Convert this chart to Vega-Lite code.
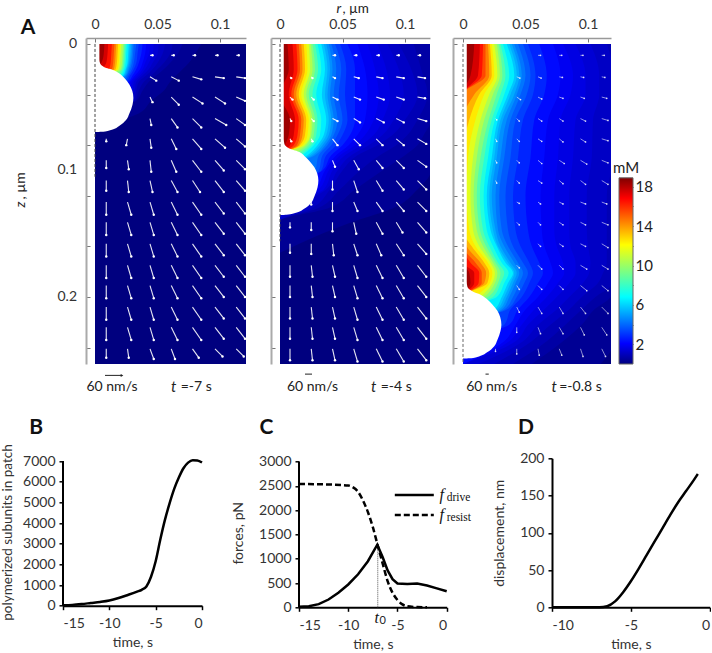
{"$schema":"https://vega.github.io/schema/vega-lite/v6.json","padding":{"left":0,"top":1,"right":0,"bottom":0},"bounds":"flush","spacing":420.3,"config":{"view":{"stroke":null},"font":"Lato","axis":{"grid":false,"labelFont":"Lato","titleFont":"Lato","labelFontSize":14,"titleFontSize":14,"labelColor":"#333","titleColor":"#333","titleFontWeight":"normal","labelOverlap":false},"text":{"font":"Lato","fontSize":14,"color":"#222"}},
"datasets":{
"c1":[
{"z":0,"c2":85,"c5":70,"c7":62,"c10":56,"c12":51,"c15":47,"c17":44,"c20":41,"c25":38,"c30":35,"c35":33,"c40":31,"c45":30,"c50":29,"c55":28,"c60":27,"c70":25.5,"c80":24.5,"c90":23.5,"c100":22.5,"c110":21,"c120":20,"c130":18.5,"c140":17,"c150":15.5,"c160":13.5,"c170":10.5,"c180":7.5},
{"z":8,"c2":80,"c5":66,"c7":60,"c10":54,"c12":50,"c15":46,"c17":43,"c20":40,"c25":37,"c30":34,"c35":32,"c40":30.5,"c45":29.5,"c50":28.5,"c55":27.5,"c60":26.5,"c70":25,"c80":24,"c90":23,"c100":22,"c110":20.5,"c120":19.5,"c130":18,"c140":16.5,"c150":15,"c160":13,"c170":10,"c180":7},
{"z":15,"c2":75,"c5":60,"c7":55,"c10":50,"c12":46,"c15":43,"c17":40,"c20":38,"c25":35,"c30":33,"c35":31,"c40":29.5,"c45":28.5,"c50":27.5,"c55":26.7,"c60":26,"c70":24.5,"c80":23.5,"c90":22.5,"c100":21.5,"c110":20,"c120":19,"c130":17.5,"c140":16,"c150":14.5,"c160":12.5,"c170":9,"c180":5},
{"z":20,"c2":70,"c5":55,"c7":50,"c10":46,"c12":43,"c15":40,"c17":38,"c20":36,"c25":33,"c30":31,"c35":29.5,"c40":28,"c45":27,"c50":26,"c55":25.2,"c60":24.5,"c70":23.5,"c80":22.5,"c90":21.5,"c100":20.5,"c110":19,"c120":18,"c130":16.5,"c140":15,"c150":13.5,"c160":11,"c170":5,"c180":0},
{"z":25,"c2":65,"c5":49,"c7":45,"c10":41,"c12":38,"c15":36,"c17":34,"c20":32,"c25":30,"c30":28,"c35":26.7,"c40":25.5,"c45":24.7,"c50":24,"c55":23.2,"c60":22.5,"c70":21,"c80":19,"c90":15,"c100":10,"c110":5,"c120":0,"c130":0,"c140":0,"c150":0,"c160":0,"c170":0,"c180":0},
{"z":30,"c2":60,"c5":43,"c7":39,"c10":35,"c12":33,"c15":31,"c17":29.5,"c20":28,"c25":26.5,"c30":25,"c35":23.5,"c40":22,"c45":18,"c50":15,"c55":10,"c60":5,"c70":0,"c80":0,"c90":0,"c100":0,"c110":0,"c120":0,"c130":0,"c140":0,"c150":0,"c160":0,"c170":0,"c180":0},
{"z":37,"c2":55,"c5":38,"c7":35,"c10":33,"c12":31.5,"c15":30,"c17":28,"c20":25,"c25":10,"c30":0,"c35":0,"c40":0,"c45":0,"c50":0,"c55":0,"c60":0,"c70":0,"c80":0,"c90":0,"c100":0,"c110":0,"c120":0,"c130":0,"c140":0,"c150":0,"c160":0,"c170":0,"c180":0},
{"z":45,"c2":45,"c5":33,"c7":32,"c10":31,"c12":25,"c15":20,"c17":10,"c20":0,"c25":0,"c30":0,"c35":0,"c40":0,"c45":0,"c50":0,"c55":0,"c60":0,"c70":0,"c80":0,"c90":0,"c100":0,"c110":0,"c120":0,"c130":0,"c140":0,"c150":0,"c160":0,"c170":0,"c180":0},
{"z":55,"c2":35,"c5":0,"c7":0,"c10":0,"c12":0,"c15":0,"c17":0,"c20":0,"c25":0,"c30":0,"c35":0,"c40":0,"c45":0,"c50":0,"c55":0,"c60":0,"c70":0,"c80":0,"c90":0,"c100":0,"c110":0,"c120":0,"c130":0,"c140":0,"c150":0,"c160":0,"c170":0,"c180":0},
{"z":65,"c2":0,"c5":0,"c7":0,"c10":0,"c12":0,"c15":0,"c17":0,"c20":0,"c25":0,"c30":0,"c35":0,"c40":0,"c45":0,"c50":0,"c55":0,"c60":0,"c70":0,"c80":0,"c90":0,"c100":0,"c110":0,"c120":0,"c130":0,"c140":0,"c150":0,"c160":0,"c170":0,"c180":0}],
"c2":[
{"z":0,"c2":120.8,"c5":120.8,"c7":107,"c10":95,"c12":86,"c15":78,"c17":70,"c20":62,"c25":54,"c30":48,"c35":44,"c40":41,"c45":39,"c50":37,"c55":35,"c60":33,"c70":30,"c80":28,"c90":26,"c100":24.5,"c110":23,"c120":21,"c130":19,"c140":17,"c150":15,"c160":13,"c170":10,"c180":6},
{"z":20,"c2":120.8,"c5":120.8,"c7":113,"c10":105,"c12":95,"c15":85,"c17":76,"c20":68,"c25":60,"c30":53,"c35":49,"c40":45,"c45":42,"c50":40,"c55":38,"c60":36,"c70":33,"c80":30.5,"c90":28,"c100":26,"c110":24,"c120":22,"c130":20,"c140":18,"c150":16,"c160":14,"c170":11,"c180":7},
{"z":40,"c2":120.8,"c5":120.8,"c7":118,"c10":110,"c12":99,"c15":88,"c17":79,"c20":70,"c25":60,"c30":52,"c35":47,"c40":43,"c45":40,"c50":38,"c55":36,"c60":33.5,"c70":29,"c80":26,"c90":23,"c100":21,"c110":19,"c120":17,"c130":15,"c140":13,"c150":11,"c160":9,"c170":7,"c180":0},
{"z":60,"c2":120.8,"c5":120.8,"c7":110,"c10":100,"c12":91,"c15":82,"c17":75,"c20":68,"c25":60,"c30":54,"c35":50,"c40":46,"c45":43,"c50":41,"c55":39,"c60":37,"c70":33,"c80":30,"c90":28,"c100":26,"c110":24.5,"c120":23,"c130":21,"c140":19,"c150":17,"c160":15,"c170":12,"c180":8},
{"z":72,"c2":120.8,"c5":115,"c7":102,"c10":90,"c12":82,"c15":75,"c17":68,"c20":62,"c25":56,"c30":50,"c35":46,"c40":43,"c45":41,"c50":39,"c55":37,"c60":35,"c70":32,"c80":29,"c90":27,"c100":25,"c110":24,"c120":22,"c130":20,"c140":18,"c150":16,"c160":14,"c170":11,"c180":7},
{"z":80,"c2":120.8,"c5":110,"c7":93,"c10":78,"c12":71,"c15":65,"c17":60,"c20":55,"c25":50,"c30":45,"c35":41,"c40":38,"c45":36,"c50":34,"c55":32,"c60":30,"c70":27,"c80":25,"c90":23,"c100":21,"c110":19.5,"c120":18,"c130":16,"c140":15,"c150":13.5,"c160":11,"c170":8,"c180":4},
{"z":88,"c2":120.8,"c5":100,"c7":80,"c10":62,"c12":57,"c15":52,"c17":48,"c20":45,"c25":41,"c30":37,"c35":34,"c40":31,"c45":28,"c50":26,"c55":24,"c60":22,"c70":18,"c80":16,"c90":13,"c100":10,"c110":0,"c120":0,"c130":0,"c140":0,"c150":0,"c160":0,"c170":0,"c180":0},
{"z":100,"c2":120.8,"c5":82,"c7":64,"c10":50,"c12":46,"c15":42,"c17":39,"c20":36,"c25":34,"c30":33,"c35":31,"c40":28,"c45":0,"c50":0,"c55":0,"c60":0,"c70":0,"c80":0,"c90":0,"c100":0,"c110":0,"c120":0,"c130":0,"c140":0,"c150":0,"c160":0,"c170":0,"c180":0},
{"z":115,"c2":110,"c5":60,"c7":48,"c10":40,"c12":37,"c15":35,"c17":31,"c20":28,"c25":0,"c30":0,"c35":0,"c40":0,"c45":0,"c50":0,"c55":0,"c60":0,"c70":0,"c80":0,"c90":0,"c100":0,"c110":0,"c120":0,"c130":0,"c140":0,"c150":0,"c160":0,"c170":0,"c180":0},
{"z":130,"c2":90,"c5":38,"c7":30,"c10":25,"c12":10,"c15":0,"c17":0,"c20":0,"c25":0,"c30":0,"c35":0,"c40":0,"c45":0,"c50":0,"c55":0,"c60":0,"c70":0,"c80":0,"c90":0,"c100":0,"c110":0,"c120":0,"c130":0,"c140":0,"c150":0,"c160":0,"c170":0,"c180":0},
{"z":140,"c2":60,"c5":0,"c7":0,"c10":0,"c12":0,"c15":0,"c17":0,"c20":0,"c25":0,"c30":0,"c35":0,"c40":0,"c45":0,"c50":0,"c55":0,"c60":0,"c70":0,"c80":0,"c90":0,"c100":0,"c110":0,"c120":0,"c130":0,"c140":0,"c150":0,"c160":0,"c170":0,"c180":0},
{"z":165,"c2":0,"c5":0,"c7":0,"c10":0,"c12":0,"c15":0,"c17":0,"c20":0,"c25":0,"c30":0,"c35":0,"c40":0,"c45":0,"c50":0,"c55":0,"c60":0,"c70":0,"c80":0,"c90":0,"c100":0,"c110":0,"c120":0,"c130":0,"c140":0,"c150":0,"c160":0,"c170":0,"c180":0}],
"c3":[
{"z":0,"c2":120.8,"c5":120.8,"c7":120.8,"c10":115,"c12":102,"c15":90,"c17":80,"c20":72,"c25":61,"c30":52,"c35":48,"c40":44,"c45":41,"c50":39,"c55":37,"c60":35,"c70":32,"c80":30,"c90":28.5,"c100":27,"c110":25,"c120":23,"c130":21.5,"c140":20,"c150":18,"c160":16,"c170":13.5,"c180":9},
{"z":25,"c2":120.8,"c5":120.8,"c7":120.8,"c10":120.8,"c12":109,"c15":98,"c17":88,"c20":78,"c25":67,"c30":58,"c35":54,"c40":50,"c45":47,"c50":45,"c55":43,"c60":41,"c70":37,"c80":34,"c90":31.5,"c100":29.5,"c110":27.5,"c120":25,"c130":23,"c140":21,"c150":18,"c160":15,"c170":12,"c180":6},
{"z":40,"c2":120.8,"c5":120.8,"c7":120.8,"c10":120.8,"c12":109,"c15":98,"c17":86,"c20":76,"c25":65,"c30":56,"c35":51,"c40":46,"c45":43,"c50":41,"c55":38,"c60":36,"c70":33,"c80":30,"c90":27,"c100":24,"c110":21,"c120":17,"c130":13,"c140":9,"c150":0,"c160":0,"c170":0,"c180":0},
{"z":60,"c2":120.8,"c5":120.8,"c7":120.8,"c10":120,"c12":104,"c15":90,"c17":78,"c20":68,"c25":57,"c30":48,"c35":42,"c40":38,"c45":35,"c50":32,"c55":30,"c60":28,"c70":25.5,"c80":23,"c90":20.5,"c100":17,"c110":14,"c120":10,"c130":5,"c140":0,"c150":0,"c160":0,"c170":0,"c180":0},
{"z":90,"c2":120.8,"c5":120.8,"c7":120.8,"c10":120,"c12":103,"c15":88,"c17":76,"c20":65,"c25":54,"c30":44,"c35":38,"c40":33,"c45":30,"c50":27,"c55":25,"c60":23,"c70":20,"c80":17,"c90":14,"c100":11,"c110":8,"c120":4,"c130":0,"c140":0,"c150":0,"c160":0,"c170":0,"c180":0},
{"z":120,"c2":120.8,"c5":120.8,"c7":120.8,"c10":115,"c12":99,"c15":85,"c17":73,"c20":62,"c25":50,"c30":40,"c35":34,"c40":29,"c45":26,"c50":23,"c55":21,"c60":19,"c70":16.5,"c80":13.5,"c90":11,"c100":8.5,"c110":6,"c120":3,"c130":0,"c140":0,"c150":0,"c160":0,"c170":0,"c180":0},
{"z":147,"c2":120.8,"c5":120.8,"c7":120.8,"c10":115,"c12":99,"c15":85,"c17":73,"c20":63,"c25":52,"c30":42,"c35":36,"c40":31,"c45":28,"c50":26,"c55":24,"c60":22,"c70":19,"c80":16,"c90":13.5,"c100":11,"c110":8,"c120":5,"c130":0,"c140":0,"c150":0,"c160":0,"c170":0,"c180":0},
{"z":160,"c2":120.8,"c5":120.8,"c7":120.8,"c10":115,"c12":100,"c15":86,"c17":75,"c20":65,"c25":55,"c30":46,"c35":40,"c40":36,"c45":33,"c50":30,"c55":28,"c60":27,"c70":24,"c80":21,"c90":18.5,"c100":16,"c110":13,"c120":10,"c130":7,"c140":3,"c150":0,"c160":0,"c170":0,"c180":0},
{"z":173,"c2":120.8,"c5":120.8,"c7":120.8,"c10":115,"c12":102,"c15":90,"c17":80,"c20":70,"c25":61,"c30":53,"c35":48,"c40":44,"c45":41,"c50":38,"c55":36,"c60":34,"c70":31,"c80":28,"c90":26,"c100":24,"c110":22,"c120":20,"c130":17,"c140":14,"c150":10,"c160":6,"c170":0,"c180":0},
{"z":181,"c2":120.8,"c5":120.8,"c7":120.8,"c10":112,"c12":101,"c15":90,"c17":81,"c20":72,"c25":64,"c30":56,"c35":52,"c40":48,"c45":45,"c50":43,"c55":41,"c60":40,"c70":36.5,"c80":33,"c90":30,"c100":27.5,"c110":25.5,"c120":23.5,"c130":21,"c140":18.5,"c150":15,"c160":13,"c170":9,"c180":5},
{"z":189,"c2":120.8,"c5":120.8,"c7":120,"c10":108,"c12":96,"c15":85,"c17":76,"c20":68,"c25":60,"c30":53,"c35":49,"c40":45,"c45":42,"c50":40,"c55":38,"c60":36,"c70":33,"c80":30,"c90":28,"c100":25.5,"c110":23.5,"c120":21.5,"c130":19.5,"c140":17,"c150":15,"c160":12.5,"c170":9,"c180":6},
{"z":200,"c2":120.8,"c5":118,"c7":106,"c10":95,"c12":85,"c15":75,"c17":67,"c20":60,"c25":53,"c30":47,"c35":43,"c40":40,"c45":37,"c50":35,"c55":33,"c60":31,"c70":27,"c80":24,"c90":20,"c100":17,"c110":14,"c120":10,"c130":0,"c140":0,"c150":0,"c160":0,"c170":0,"c180":0},
{"z":210,"c2":120.8,"c5":105,"c7":95,"c10":85,"c12":75,"c15":65,"c17":57,"c20":50,"c25":44,"c30":38,"c35":35,"c40":33,"c45":31,"c50":29,"c55":27,"c60":25,"c70":0,"c80":0,"c90":0,"c100":0,"c110":0,"c120":0,"c130":0,"c140":0,"c150":0,"c160":0,"c170":0,"c180":0},
{"z":222,"c2":120.8,"c5":95,"c7":82,"c10":70,"c12":60,"c15":52,"c17":47,"c20":42,"c25":37,"c30":33,"c35":0,"c40":0,"c45":0,"c50":0,"c55":0,"c60":0,"c70":0,"c80":0,"c90":0,"c100":0,"c110":0,"c120":0,"c130":0,"c140":0,"c150":0,"c160":0,"c170":0,"c180":0},
{"z":235,"c2":120.8,"c5":80,"c7":67,"c10":55,"c12":48,"c15":42,"c17":37,"c20":33,"c25":0,"c30":0,"c35":0,"c40":0,"c45":0,"c50":0,"c55":0,"c60":0,"c70":0,"c80":0,"c90":0,"c100":0,"c110":0,"c120":0,"c130":0,"c140":0,"c150":0,"c160":0,"c170":0,"c180":0},
{"z":253,"c2":110,"c5":55,"c7":40,"c10":25,"c12":12,"c15":0,"c17":0,"c20":0,"c25":0,"c30":0,"c35":0,"c40":0,"c45":0,"c50":0,"c55":0,"c60":0,"c70":0,"c80":0,"c90":0,"c100":0,"c110":0,"c120":0,"c130":0,"c140":0,"c150":0,"c160":0,"c170":0,"c180":0}],
"w1":[{"z":0,"r":3.5},{"z":12,"r":3.5},{"z":15,"r":4},{"z":17.5,"r":6},{"z":19,"r":9},{"z":20,"r":13},{"z":21,"r":15.5},{"z":23,"r":19},{"z":27,"r":23.5},{"z":32,"r":27.5},{"z":37,"r":29.8},{"z":42.7,"r":30.7},{"z":48,"r":30},{"z":55,"r":27.5},{"z":60,"r":25},{"z":65,"r":19},{"z":68,"r":12.8},{"z":69.5,"r":5},{"z":69.7,"r":0}],
"w2":[{"z":0,"r":3},{"z":75,"r":3},{"z":79,"r":3.5},{"z":81,"r":5},{"z":83,"r":8.5},{"z":84.5,"r":13},{"z":85.5,"r":15.5},{"z":88.5,"r":19.5},{"z":92.5,"r":23.5},{"z":97.5,"r":27.5},{"z":102.5,"r":29.8},{"z":108,"r":30.7},{"z":113.5,"r":30},{"z":120.5,"r":27.5},{"z":125.5,"r":25},{"z":130.5,"r":19},{"z":133.5,"r":12.8},{"z":135,"r":5},{"z":135.2,"r":0}],
"w3":[{"z":0,"r":3},{"z":188,"r":3},{"z":192,"r":3.5},{"z":194,"r":5},{"z":196,"r":8.5},{"z":197.5,"r":12.5},{"z":199,"r":15.5},{"z":202,"r":19.5},{"z":206,"r":23.5},{"z":211,"r":27.5},{"z":216,"r":29.8},{"z":222,"r":30.7},{"z":227,"r":30},{"z":234,"r":27.5},{"z":239,"r":25},{"z":244,"r":19},{"z":247,"r":12.8},{"z":248.5,"r":5},{"z":248.7,"r":0}],
"a1":[{"r":44,"z":9,"r2":46,"z2":9},{"r":61,"z":9,"r2":63,"z2":9},{"r":78,"z":9,"r2":80,"z2":9},{"r":96,"z":9,"r2":98,"z2":9},{"r":113,"z":9,"r2":115,"z2":9},
{"r":44,"z":26,"r2":49,"z2":29},{"r":61,"z":26,"r2":67,"z2":29},{"r":78,"z":26,"r2":85,"z2":28},{"r":96,"z":26,"r2":103,"z2":27},{"r":113,"z":26,"r2":120,"z2":27},
{"r":44,"z":42,"r2":46,"z2":46},{"r":61,"z":42,"r2":67,"z2":48},{"r":78,"z":42,"r2":86,"z2":47},{"r":96,"z":42,"r2":104,"z2":47},{"r":113,"z":42,"r2":120,"z2":45},
{"r":44,"z":59,"r2":45,"z2":64},{"r":61,"z":59,"r2":66,"z2":66},{"r":78,"z":59,"r2":85,"z2":66},{"r":96,"z":59,"r2":105,"z2":64},{"r":113,"z":59,"r2":120,"z2":64},
{"r":9,"z":75,"r2":9,"z2":77},{"r":26,"z":75,"r2":25,"z2":80},{"r":44,"z":75,"r2":45,"z2":82},{"r":61,"z":75,"r2":65,"z2":83},{"r":78,"z":75,"r2":85,"z2":83},{"r":96,"z":75,"r2":104,"z2":82},{"r":113,"z":75,"r2":120,"z2":81},
{"r":9,"z":92,"r2":9,"z2":98},{"r":26,"z":92,"r2":27,"z2":99},{"r":44,"z":92,"r2":45,"z2":101},{"r":61,"z":92,"r2":65,"z2":101},{"r":78,"z":92,"r2":85,"z2":101},{"r":96,"z":92,"r2":103,"z2":100},{"r":113,"z":92,"r2":120,"z2":99},
{"r":9,"z":108,"r2":9,"z2":116},{"r":26,"z":108,"r2":27,"z2":117},{"r":44,"z":108,"r2":46,"z2":117},{"r":61,"z":108,"r2":66,"z2":117},{"r":78,"z":108,"r2":84,"z2":117},{"r":96,"z":108,"r2":103,"z2":117},{"r":113,"z":108,"r2":120,"z2":116},
{"r":9,"z":125,"r2":9,"z2":135},{"r":26,"z":125,"r2":29,"z2":135},{"r":44,"z":125,"r2":47,"z2":135},{"r":61,"z":125,"r2":66,"z2":135},{"r":78,"z":125,"r2":85,"z2":135},{"r":96,"z":125,"r2":103,"z2":134},{"r":113,"z":125,"r2":120,"z2":134},
{"r":9,"z":141,"r2":9,"z2":151},{"r":26,"z":141,"r2":29,"z2":151},{"r":44,"z":141,"r2":47,"z2":151},{"r":61,"z":141,"r2":66,"z2":151},{"r":78,"z":141,"r2":85,"z2":151},{"r":96,"z":141,"r2":103,"z2":150},{"r":113,"z":141,"r2":120,"z2":150},
{"r":9,"z":158,"r2":9,"z2":168},{"r":26,"z":158,"r2":29,"z2":168},{"r":44,"z":158,"r2":47,"z2":168},{"r":61,"z":158,"r2":66,"z2":168},{"r":78,"z":158,"r2":85,"z2":168},{"r":96,"z":158,"r2":103,"z2":167},{"r":113,"z":158,"r2":120,"z2":167},
{"r":9,"z":175,"r2":9,"z2":185},{"r":26,"z":175,"r2":29,"z2":185},{"r":44,"z":175,"r2":47,"z2":185},{"r":61,"z":175,"r2":66,"z2":185},{"r":78,"z":175,"r2":85,"z2":185},{"r":96,"z":175,"r2":103,"z2":184},{"r":113,"z":175,"r2":120,"z2":184},
{"r":9,"z":191,"r2":9,"z2":201},{"r":26,"z":191,"r2":29,"z2":201},{"r":44,"z":191,"r2":47,"z2":201},{"r":61,"z":191,"r2":66,"z2":201},{"r":78,"z":191,"r2":85,"z2":201},{"r":96,"z":191,"r2":103,"z2":200},{"r":113,"z":191,"r2":120,"z2":200},
{"r":9,"z":208,"r2":9,"z2":218},{"r":26,"z":208,"r2":29,"z2":218},{"r":44,"z":208,"r2":47,"z2":218},{"r":61,"z":208,"r2":66,"z2":218},{"r":78,"z":208,"r2":85,"z2":218},{"r":96,"z":208,"r2":103,"z2":217},{"r":113,"z":208,"r2":120,"z2":217},
{"r":9,"z":224,"r2":9,"z2":234},{"r":26,"z":224,"r2":29,"z2":234},{"r":44,"z":224,"r2":47,"z2":234},{"r":61,"z":224,"r2":66,"z2":234},{"r":78,"z":224,"r2":85,"z2":234},{"r":96,"z":224,"r2":103,"z2":233},{"r":113,"z":224,"r2":120,"z2":233},
{"r":9,"z":241,"r2":9,"z2":248},{"r":26,"z":241,"r2":27,"z2":248},{"r":44,"z":241,"r2":47,"z2":249},{"r":61,"z":241,"r2":64,"z2":249},{"r":78,"z":241,"r2":83,"z2":248},{"r":96,"z":241,"r2":102,"z2":247},{"r":113,"z":241,"r2":119,"z2":247}],
"a2":[{"r":42,"z":9,"r2":44,"z2":9},{"r":59,"z":9,"r2":61,"z2":9},{"r":77,"z":9,"r2":79,"z2":9},{"r":93,"z":9,"r2":95,"z2":9},{"r":110,"z":9,"r2":112,"z2":9},
{"r":8,"z":26,"r2":9,"z2":27},{"r":25,"z":26,"r2":26,"z2":27},{"r":42,"z":26,"r2":44,"z2":27},{"r":59,"z":26,"r2":63,"z2":27},{"r":77,"z":26,"r2":82,"z2":27},{"r":93,"z":26,"r2":99,"z2":27},{"r":110,"z":26,"r2":116,"z2":27},
{"r":8,"z":42,"r2":10,"z2":44},{"r":25,"z":42,"r2":27,"z2":44},{"r":42,"z":42,"r2":46,"z2":44},{"r":59,"z":42,"r2":64,"z2":44},{"r":77,"z":42,"r2":83,"z2":44},{"r":93,"z":42,"r2":99,"z2":44},{"r":110,"z":42,"r2":116,"z2":43},
{"r":8,"z":59,"r2":9,"z2":61},{"r":25,"z":59,"r2":27,"z2":61},{"r":42,"z":59,"r2":46,"z2":61},{"r":59,"z":59,"r2":64,"z2":62},{"r":77,"z":59,"r2":83,"z2":62},{"r":93,"z":59,"r2":99,"z2":62},{"r":110,"z":59,"r2":117,"z2":61},
{"r":8,"z":75,"r2":9,"z2":77},{"r":25,"z":75,"r2":26,"z2":77},{"r":42,"z":75,"r2":46,"z2":80},{"r":59,"z":75,"r2":64,"z2":80},{"r":77,"z":75,"r2":82,"z2":80},{"r":93,"z":75,"r2":99,"z2":80},{"r":110,"z":75,"r2":117,"z2":79},
{"r":42,"z":92,"r2":44,"z2":97},{"r":59,"z":92,"r2":63,"z2":99},{"r":77,"z":92,"r2":82,"z2":98},{"r":93,"z":92,"r2":99,"z2":98},{"r":110,"z":92,"r2":117,"z2":97},
{"r":42,"z":108,"r2":42,"z2":115},{"r":59,"z":108,"r2":62,"z2":117},{"r":77,"z":108,"r2":82,"z2":116},{"r":93,"z":108,"r2":99,"z2":115},{"r":110,"z":108,"r2":117,"z2":115},
{"r":25,"z":125,"r2":25,"z2":127},{"r":42,"z":125,"r2":42,"z2":132},{"r":59,"z":125,"r2":62,"z2":132},{"r":77,"z":125,"r2":82,"z2":132},{"r":93,"z":125,"r2":99,"z2":132},{"r":110,"z":125,"r2":117,"z2":132},
{"r":8,"z":141,"r2":8,"z2":145},{"r":25,"z":141,"r2":25,"z2":147},{"r":42,"z":141,"r2":42,"z2":148},{"r":59,"z":141,"r2":61,"z2":150},{"r":77,"z":141,"r2":82,"z2":150},{"r":93,"z":141,"r2":98,"z2":149},{"r":110,"z":141,"r2":117,"z2":149},
{"r":8,"z":158,"r2":8,"z2":165},{"r":25,"z":158,"r2":25,"z2":166},{"r":42,"z":158,"r2":43,"z2":167},{"r":59,"z":158,"r2":62,"z2":167},{"r":77,"z":158,"r2":81,"z2":167},{"r":93,"z":158,"r2":99,"z2":167},{"r":110,"z":158,"r2":117,"z2":166},
{"r":8,"z":175,"r2":8,"z2":184},{"r":25,"z":175,"r2":26,"z2":184},{"r":42,"z":175,"r2":44,"z2":184},{"r":59,"z":175,"r2":62,"z2":185},{"r":77,"z":175,"r2":82,"z2":185},{"r":93,"z":175,"r2":99,"z2":185},{"r":110,"z":175,"r2":117,"z2":184},
{"r":8,"z":191,"r2":8,"z2":200},{"r":25,"z":191,"r2":26,"z2":200},{"r":42,"z":191,"r2":44,"z2":200},{"r":59,"z":191,"r2":62,"z2":201},{"r":77,"z":191,"r2":82,"z2":201},{"r":93,"z":191,"r2":99,"z2":201},{"r":110,"z":191,"r2":117,"z2":200},
{"r":8,"z":208,"r2":8,"z2":217},{"r":25,"z":208,"r2":26,"z2":217},{"r":42,"z":208,"r2":44,"z2":217},{"r":59,"z":208,"r2":62,"z2":218},{"r":77,"z":208,"r2":82,"z2":218},{"r":93,"z":208,"r2":99,"z2":218},{"r":110,"z":208,"r2":117,"z2":217},
{"r":8,"z":224,"r2":8,"z2":233},{"r":25,"z":224,"r2":26,"z2":233},{"r":42,"z":224,"r2":44,"z2":233},{"r":59,"z":224,"r2":62,"z2":234},{"r":77,"z":224,"r2":82,"z2":234},{"r":93,"z":224,"r2":99,"z2":234},{"r":110,"z":224,"r2":117,"z2":233},
{"r":8,"z":241,"r2":8,"z2":250},{"r":25,"z":241,"r2":26,"z2":250},{"r":42,"z":241,"r2":44,"z2":250},{"r":59,"z":241,"r2":62,"z2":251},{"r":77,"z":241,"r2":82,"z2":251},{"r":93,"z":241,"r2":99,"z2":251},{"r":110,"z":241,"r2":117,"z2":250}],
"a3":[{"r":60,"z":9,"r2":62,"z2":9},{"r":77,"z":9,"r2":79,"z2":9},{"r":94,"z":9,"r2":96,"z2":9},{"r":111,"z":9,"r2":113,"z2":9},
{"r":43,"z":26,"r2":45.5,"z2":27},{"r":60,"z":26,"r2":62.5,"z2":27},{"r":77,"z":26,"r2":79.5,"z2":26.5},{"r":94,"z":26,"r2":96.5,"z2":26.5},{"r":111,"z":26,"r2":113.5,"z2":26.5},
{"r":43,"z":42,"r2":46,"z2":44},{"r":60,"z":42,"r2":63,"z2":43.5},{"r":77,"z":42,"r2":80,"z2":43},{"r":94,"z":42,"r2":97,"z2":43},{"r":111,"z":42,"r2":115,"z2":43},
{"r":26,"z":59,"r2":27,"z2":60},{"r":43,"z":59,"r2":45,"z2":61},{"r":60,"z":59,"r2":63,"z2":61},{"r":77,"z":59,"r2":80,"z2":61},{"r":94,"z":59,"r2":98,"z2":61},{"r":111,"z":59,"r2":116,"z2":60.5},
{"r":26,"z":75,"r2":27,"z2":77},{"r":43,"z":75,"r2":45,"z2":77},{"r":60,"z":75,"r2":63,"z2":77},{"r":77,"z":75,"r2":80,"z2":77.5},{"r":94,"z":75,"r2":98,"z2":77.5},{"r":111,"z":75,"r2":116,"z2":76.5},
{"r":26,"z":92,"r2":27,"z2":94},{"r":43,"z":92,"r2":45,"z2":94},{"r":60,"z":92,"r2":63,"z2":94.5},{"r":77,"z":92,"r2":81,"z2":94.5},{"r":94,"z":92,"r2":99,"z2":95},{"r":111,"z":92,"r2":116,"z2":94},
{"r":26,"z":108,"r2":27,"z2":110},{"r":43,"z":108,"r2":45,"z2":110},{"r":60,"z":108,"r2":63,"z2":110},{"r":77,"z":108,"r2":80,"z2":110.5},{"r":94,"z":108,"r2":98,"z2":111},{"r":111,"z":108,"r2":116,"z2":111},
{"r":43,"z":125,"r2":45,"z2":126},{"r":60,"z":125,"r2":62,"z2":126.5},{"r":77,"z":125,"r2":80,"z2":126.5},{"r":94,"z":125,"r2":98,"z2":126.5},{"r":111,"z":125,"r2":115,"z2":126.5},
{"r":43,"z":141,"r2":45,"z2":143},{"r":60,"z":141,"r2":62,"z2":143},{"r":77,"z":141,"r2":80,"z2":143},{"r":94,"z":141,"r2":98,"z2":143},{"r":111,"z":141,"r2":116,"z2":143},
{"r":60,"z":158,"r2":62,"z2":160},{"r":77,"z":158,"r2":80,"z2":160},{"r":94,"z":158,"r2":98,"z2":160},{"r":111,"z":158,"r2":116,"z2":161},
{"r":43,"z":175,"r2":45,"z2":177},{"r":60,"z":175,"r2":63,"z2":178},{"r":77,"z":175,"r2":80,"z2":178},{"r":94,"z":175,"r2":99,"z2":178},{"r":111,"z":175,"r2":116,"z2":178},
{"r":43,"z":191,"r2":45,"z2":194},{"r":60,"z":191,"r2":63,"z2":194},{"r":77,"z":191,"r2":80,"z2":194},{"r":94,"z":191,"r2":99,"z2":195},{"r":111,"z":191,"r2":116,"z2":195},
{"r":43,"z":208,"r2":45,"z2":212},{"r":60,"z":208,"r2":63,"z2":213},{"r":77,"z":208,"r2":80,"z2":213},{"r":94,"z":208,"r2":98,"z2":213},{"r":111,"z":208,"r2":116,"z2":213},
{"r":43,"z":224,"r2":43,"z2":228},{"r":60,"z":224,"r2":62,"z2":229},{"r":77,"z":224,"r2":80,"z2":229},{"r":94,"z":224,"r2":97,"z2":230},{"r":111,"z":224,"r2":115,"z2":230},
{"r":26,"z":241,"r2":26,"z2":243},{"r":43,"z":241,"r2":43,"z2":245},{"r":60,"z":241,"r2":61,"z2":246},{"r":77,"z":241,"r2":79,"z2":246},{"r":94,"z":241,"r2":96,"z2":247},{"r":111,"z":241,"r2":114,"z2":247}]
},
"vconcat":[
{"hconcat":[
{"width":22.3,"height":10,"data":{"values":[{"n":1}]},"mark":{"type":"point","opacity":0},"encoding":{}},
{"width":160,"height":326,
"encoding":{"x":{"field":"r","type":"quantitative","scale":{"domain":[-7.2,120.8],"nice":false,"zero":false},"axis":{"orient":"top","values":[0,50,100],"labelExpr":"datum.value/1000","title":null,"domainColor":"#999","domainWidth":1.5,"tickColor":"#777","tickSize":-4,"labelPadding":11}},
"y":{"field":"z","type":"quantitative","scale":{"domain":[-4.7,253],"nice":false,"zero":false,"reverse":true},"axis":{"orient":"left","values":[0,20,40,60,80,100,120,140,160,180,200,220,240],"labels":false,"title":null,"domainColor":"#aaa","domainWidth":2,"tickColor":"#777","tickSize":-4}}},
"layer":[
{"data":{"values":[{"r":0,"r2":120.8,"z":0,"z2":253}]},"mark":{"type":"rect","fill":"#00007f"},"encoding":{"x2":{"field":"r2"},"y2":{"field":"z2"}}},
{"data":{"name":"c1"},"transform":[{"fold":["c2","c5","c7","c10","c12","c15","c17","c20","c25","c30","c35","c40","c45","c50","c55","c60","c70","c80","c90","c100","c110","c120","c130","c140","c150","c160","c170","c180"],"as":["key","r"]}],"mark":{"type":"area","orient":"horizontal","interpolate":"monotone"},"encoding":{"x2":{"datum":0},"color":{"field":"key","type":"nominal","legend":null,"scale":{"domain":["c2","c5","c7","c10","c12","c15","c17","c20","c25","c30","c35","c40","c45","c50","c55","c60","c70","c80","c90","c100","c110","c120","c130","c140","c150","c160","c170","c180"],"range":["#000094","#0000a5","#0000b5","#0000c5","#0000d4","#0000e3","#0000f2","#0009ff","#0024ff","#003fff","#005aff","#0075ff","#0090ff","#00abff","#00c6ff","#00efff","#22ffdd","#52ffad","#82ff7d","#b2ff4d","#e2ff1d","#ffea00","#ffb400","#ff7d00","#ff4700","#ff1100","#d50000","#9d0000"]}}}},
{"data":{"name":"w1"},"mark":{"type":"area","orient":"horizontal","interpolate":"monotone","fill":"white"},"encoding":{"x2":{"datum":0}}},
{"data":{"name":"a1"},"mark":{"type":"rule","color":"white","strokeWidth":1.1,"opacity":0.9},"encoding":{"x2":{"field":"r2"},"y2":{"field":"z2"}}},
{"data":{"name":"a1"},"mark":{"type":"circle","color":"white","size":6,"opacity":1},"encoding":{"x":{"field":"r2","type":"quantitative","axis":{"orient":"top","title":null},"scale":{"domain":[-7.2,120.8],"nice":false,"zero":false}},"y":{"field":"z2","type":"quantitative","axis":{"orient":"left","title":null},"scale":{"domain":[-4.7,253],"nice":false,"zero":false,"reverse":true}}}},
{"data":{"values":[{"r":0,"z":0,"z2":105}]},"mark":{"type":"rule","color":"#444","strokeDash":[3,2],"strokeWidth":1},"encoding":{"y2":{"field":"z2"}}},
{"data":{"values":[{"r":8,"z":262,"r2":21.6,"z2":262}]},"mark":{"type":"rule","color":"#222","strokeWidth":1},"encoding":{"x2":{"field":"r2"}}},
{"data":{"values":[{"r":21.6,"z":262}]},"mark":{"type":"point","shape":"triangle-right","filled":true,"size":9,"color":"#222","opacity":1}},
{"data":{"values":[{"r":13.6,"z":271,"t":"60 nm/s"},{"r":81,"z":271,"t":"=-7 s"}]},"mark":{"type":"text","align":"center"},"encoding":{"text":{"field":"t"}}},
{"data":{"values":[{"r":-14.4,"z":0,"t":"0"},{"r":-14.4,"z":100,"t":"0.1"},{"r":-14.4,"z":200,"t":"0.2"}]},"mark":{"type":"text","align":"right","color":"#333"},"encoding":{"text":{"field":"t"}}},
{"data":{"values":[{"r":63,"z":271,"t":"t"}]},"mark":{"type":"text","fontStyle":"italic","fontSize":15},"encoding":{"text":{"field":"t"}}},
{"data":{"values":[{"r":-53.6,"z":-12.6,"t":"A"}]},"mark":{"type":"text","fontWeight":"bold","fontSize":21,"color":"#111"},"encoding":{"text":{"field":"t"}}},
{"data":{"values":[{"r":-59,"z":127,"t":"z"}]},"mark":{"type":"text","fontStyle":"italic","angle":270},"encoding":{"text":{"field":"t"}}},
{"data":{"values":[{"r":-59,"z":123,"t":", µm"}]},"mark":{"type":"text","angle":270,"align":"left"},"encoding":{"text":{"field":"t"}}}
]},
{"width":25,"height":10,"data":{"values":[{"n":1}]},"mark":{"type":"point","opacity":0},"encoding":{}},
{"width":159,"height":326,
"encoding":{"x":{"field":"r","type":"quantitative","scale":{"domain":[-7.2,120],"nice":false,"zero":false},"axis":{"orient":"top","values":[0,50,100],"labelExpr":"datum.value/1000","title":null,"domainColor":"#999","domainWidth":1.5,"tickColor":"#777","tickSize":-4,"labelPadding":11}},
"y":{"field":"z","type":"quantitative","scale":{"domain":[-4.7,253],"nice":false,"zero":false,"reverse":true},"axis":{"orient":"left","values":[0,20,40,60,80,100,120,140,160,180,200,220,240],"labels":false,"title":null,"domainColor":"#aaa","domainWidth":2,"tickColor":"#777","tickSize":-4}}},
"layer":[
{"data":{"values":[{"r":0,"r2":120,"z":0,"z2":253}]},"mark":{"type":"rect","fill":"#00007f"},"encoding":{"x2":{"field":"r2"},"y2":{"field":"z2"}}},
{"data":{"name":"c2"},"transform":[{"fold":["c2","c5","c7","c10","c12","c15","c17","c20","c25","c30","c35","c40","c45","c50","c55","c60","c70","c80","c90","c100","c110","c120","c130","c140","c150","c160","c170","c180"],"as":["key","r"]}],"mark":{"type":"area","orient":"horizontal","interpolate":"monotone","clip":true},"encoding":{"x2":{"datum":0},"color":{"field":"key","type":"nominal","legend":null,"scale":{"domain":["c2","c5","c7","c10","c12","c15","c17","c20","c25","c30","c35","c40","c45","c50","c55","c60","c70","c80","c90","c100","c110","c120","c130","c140","c150","c160","c170","c180"],"range":["#000094","#0000a5","#0000b5","#0000c5","#0000d4","#0000e3","#0000f2","#0009ff","#0024ff","#003fff","#005aff","#0075ff","#0090ff","#00abff","#00c6ff","#00efff","#22ffdd","#52ffad","#82ff7d","#b2ff4d","#e2ff1d","#ffea00","#ffb400","#ff7d00","#ff4700","#ff1100","#d50000","#9d0000"]}}}},
{"data":{"name":"w2"},"mark":{"type":"area","orient":"horizontal","interpolate":"monotone","fill":"white"},"encoding":{"x2":{"datum":0}}},
{"data":{"name":"a2"},"mark":{"type":"rule","color":"white","strokeWidth":1.1,"opacity":0.9},"encoding":{"x2":{"field":"r2"},"y2":{"field":"z2"}}},
{"data":{"name":"a2"},"mark":{"type":"circle","color":"white","size":6,"opacity":1},"encoding":{"x":{"field":"r2","type":"quantitative","axis":{"orient":"top","title":null},"scale":{"domain":[-7.2,120],"nice":false,"zero":false}},"y":{"field":"z2","type":"quantitative","axis":{"orient":"left","title":null},"scale":{"domain":[-4.7,253],"nice":false,"zero":false,"reverse":true}}}},
{"data":{"values":[{"r":0,"z":0,"z2":156}]},"mark":{"type":"rule","color":"#444","strokeDash":[3,2],"strokeWidth":1},"encoding":{"y2":{"field":"z2"}}},
{"data":{"values":[{"r":20,"z":261,"r2":25.6,"z2":261}]},"mark":{"type":"rule","color":"#222","strokeWidth":1},"encoding":{"x2":{"field":"r2"}}},
{"data":{"values":[{"r":26,"z":271,"t":"60 nm/s"},{"r":93,"z":271,"t":"=-4 s"}]},"mark":{"type":"text","align":"center"},"encoding":{"text":{"field":"t"}}},
{"data":{"values":[{"r":75,"z":271,"t":"t"}]},"mark":{"type":"text","fontStyle":"italic","fontSize":15},"encoding":{"text":{"field":"t"}}},
{"data":{"values":[{"r":47,"z":-28,"t":"r"}]},"mark":{"type":"text","fontStyle":"italic","fontSize":13.5},"encoding":{"text":{"field":"t"}}},
{"data":{"values":[{"r":50,"z":-28,"t":", µm"}]},"mark":{"type":"text","align":"left","fontSize":13.5},"encoding":{"text":{"field":"t"}}}
]},
{"width":23,"height":10,"data":{"values":[{"n":1}]},"mark":{"type":"point","opacity":0},"encoding":{}},
{"width":158,"height":326,
"encoding":{"x":{"field":"r","type":"quantitative","scale":{"domain":[-8,118.4],"nice":false,"zero":false},"axis":{"orient":"top","values":[0,50,100],"labelExpr":"datum.value/1000","title":null,"domainColor":"#999","domainWidth":1.5,"tickColor":"#777","tickSize":-4,"labelPadding":11}},
"y":{"field":"z","type":"quantitative","scale":{"domain":[-4.7,253],"nice":false,"zero":false,"reverse":true},"axis":{"orient":"left","values":[0,20,40,60,80,100,120,140,160,180,200,220,240],"labels":false,"title":null,"domainColor":"#aaa","domainWidth":2,"tickColor":"#777","tickSize":-4}}},
"layer":[
{"data":{"values":[{"r":0,"r2":118.4,"z":0,"z2":253}]},"mark":{"type":"rect","fill":"#00007f"},"encoding":{"x2":{"field":"r2"},"y2":{"field":"z2"}}},
{"data":{"name":"c3"},"transform":[{"fold":["c2","c5","c7","c10","c12","c15","c17","c20","c25","c30","c35","c40","c45","c50","c55","c60","c70","c80","c90","c100","c110","c120","c130","c140","c150","c160","c170","c180"],"as":["key","r"]}],"mark":{"type":"area","orient":"horizontal","interpolate":"monotone","clip":true},"encoding":{"x2":{"datum":0},"color":{"field":"key","type":"nominal","legend":null,"scale":{"domain":["c2","c5","c7","c10","c12","c15","c17","c20","c25","c30","c35","c40","c45","c50","c55","c60","c70","c80","c90","c100","c110","c120","c130","c140","c150","c160","c170","c180"],"range":["#000094","#0000a5","#0000b5","#0000c5","#0000d4","#0000e3","#0000f2","#0009ff","#0024ff","#003fff","#005aff","#0075ff","#0090ff","#00abff","#00c6ff","#00efff","#22ffdd","#52ffad","#82ff7d","#b2ff4d","#e2ff1d","#ffea00","#ffb400","#ff7d00","#ff4700","#ff1100","#d50000","#9d0000"]}}}},
{"data":{"name":"w3"},"mark":{"type":"area","orient":"horizontal","interpolate":"monotone","fill":"white"},"encoding":{"x2":{"datum":0}}},
{"data":{"name":"a3"},"mark":{"type":"rule","color":"white","strokeWidth":0.8,"opacity":0.7},"encoding":{"x2":{"field":"r2"},"y2":{"field":"z2"}}},
{"data":{"name":"a3"},"mark":{"type":"circle","color":"white","size":3,"opacity":0.8},"encoding":{"x":{"field":"r2","type":"quantitative","axis":{"orient":"top","title":null},"scale":{"domain":[-8,118.4],"nice":false,"zero":false}},"y":{"field":"z2","type":"quantitative","axis":{"orient":"left","title":null},"scale":{"domain":[-4.7,253],"nice":false,"zero":false,"reverse":true}}}},
{"data":{"values":[{"r":0,"z":0,"z2":253}]},"mark":{"type":"rule","color":"#666","strokeDash":[3,2],"strokeWidth":1},"encoding":{"y2":{"field":"z2"}}},
{"data":{"values":[{"r":18,"z":261,"r2":20.6,"z2":261}]},"mark":{"type":"rule","color":"#222","strokeWidth":1},"encoding":{"x2":{"field":"r2"}}},
{"data":{"values":[{"r":23,"z":271,"t":"60 nm/s"},{"r":94,"z":271,"t":"=-0.8 s"}]},"mark":{"type":"text","align":"center"},"encoding":{"text":{"field":"t"}}},
{"data":{"values":[{"r":73,"z":271,"t":"t"}]},"mark":{"type":"text","fontStyle":"italic","fontSize":15},"encoding":{"text":{"field":"t"}}}
]},
{"width":8,"height":10,"data":{"values":[{"n":1}]},"mark":{"type":"point","opacity":0},"encoding":{}},
{"width":14,"height":326,
"encoding":{"x":{"field":"a","type":"quantitative","scale":{"domain":[0,1]},"axis":null},"y":{"field":"c","type":"quantitative","scale":{"domain":[0,33.1],"nice":false},"axis":{"orient":"right","values":[2,4,6,8,10,12,14,16,18],"labelExpr":"datum.value%4==2?datum.label:''","labelOverlap":false,"title":null,"domain":false,"tickSize":-3,"tickColor":"#444","labelPadding":5,"labelFontSize":15,"labelColor":"#222"}}},
"layer":[
{"data":{"values":[{"a":0,"a2":1,"c":0,"c2":18.9}]},"mark":{"type":"rect","stroke":"#666","strokeWidth":1,"color":{"x1":0,"y1":1,"x2":0,"y2":0,"gradient":"linear","stops":[{"offset":0,"color":"#00007f"},{"offset":0.11,"color":"#0000ff"},{"offset":0.36,"color":"#00ffff"},{"offset":0.5,"color":"#7fff7f"},{"offset":0.64,"color":"#ffff00"},{"offset":0.89,"color":"#ff0000"},{"offset":1,"color":"#7f0000"}]}},"encoding":{"x2":{"field":"a2"},"y2":{"field":"c2"}}},
{"data":{"values":[{"a":0.5,"c":19.9,"t":"mM"}]},"mark":{"type":"text","fontSize":15},"encoding":{"text":{"field":"t"}}}
]}
],"bounds":"flush","spacing":0},
{"hconcat":[
{"width":139,"height":147.4,
"encoding":{"x":{"field":"t","type":"quantitative","scale":{"domain":[-15,0],"nice":false},"axis":{"values":[-15,-10,-5,0],"labelExpr":"''+datum.value","title":"time, s","domainColor":"black","domainWidth":2,"tickColor":"black","tickWidth":1.5,"tickSize":4,"labelPadding":7,"titlePadding":5}},
"y":{"field":"v","type":"quantitative","scale":{"domain":[0,7131],"nice":false},"axis":{"values":[0,1000,2000,3000,4000,5000,6000,7000],"format":"d","title":"polymerized subunits in patch","titleFontSize":13.5,"domain":false,"tickColor":"black","tickWidth":1.5,"tickSize":4,"labelPadding":4,"titlePadding":7.7}}},
"layer":[
{"data":{"values":[{"t":-15,"v":0,"v2":7000}]},"mark":{"type":"rule","color":"black","strokeWidth":2},"encoding":{"y2":{"field":"v2"}}},
{"data":{"values":[{"t":-15,"v":20},{"t":-14,"v":40},{"t":-13,"v":80},{"t":-12,"v":130},{"t":-11,"v":180},{"t":-10,"v":250},{"t":-9,"v":370},{"t":-8,"v":520},{"t":-7,"v":680},{"t":-6.5,"v":770},{"t":-6,"v":930},{"t":-5.5,"v":1400},{"t":-5,"v":2150},{"t":-4.5,"v":3200},{"t":-4,"v":4150},{"t":-3.5,"v":4950},{"t":-3,"v":5650},{"t":-2.5,"v":6200},{"t":-2,"v":6650},{"t":-1.5,"v":6920},{"t":-1,"v":7040},{"t":-0.5,"v":7030},{"t":0,"v":6930}]},"mark":{"type":"line","color":"black","strokeWidth":2.5,"interpolate":"monotone"}},
{"data":{"values":[{"t":-17.9,"v":8597,"s":"B"}]},"mark":{"type":"text","fontWeight":"bold","fontSize":21,"color":"#111"},"encoding":{"text":{"field":"s"}}}
]},
{"width":96.6,"height":10,"data":{"values":[{"n":1}]},"mark":{"type":"point","opacity":0},"encoding":{}},
{"width":147.7,"height":149,
"encoding":{"x":{"field":"t","type":"quantitative","scale":{"domain":[-15,0],"nice":false},"axis":{"values":[-15,-10,-5,0],"labelExpr":"''+datum.value","title":"time, s","domainColor":"black","domainWidth":2,"tickColor":"black","tickWidth":1.5,"tickSize":4,"labelPadding":7,"titlePadding":5}},
"y":{"field":"v","type":"quantitative","scale":{"domain":[0,3070],"nice":false},"axis":{"values":[0,500,1000,1500,2000,2500,3000],"format":"d","title":"forces, pN","domain":false,"tickColor":"black","tickWidth":1.5,"tickSize":4,"labelPadding":4,"titlePadding":13}}},
"layer":[
{"data":{"values":[{"t":-15,"v":0,"v2":3000}]},"mark":{"type":"rule","color":"black","strokeWidth":2},"encoding":{"y2":{"field":"v2"}}},
{"data":{"values":[{"t":-7,"v":0,"v2":1290}]},"mark":{"type":"rule","color":"#555","strokeWidth":1,"strokeDash":[1,1]},"encoding":{"y2":{"field":"v2"}}},
{"data":{"values":[{"t":-15,"v":10},{"t":-14,"v":20},{"t":-13,"v":65},{"t":-12,"v":160},{"t":-11,"v":300},{"t":-10,"v":470},{"t":-9,"v":680},{"t":-8,"v":950},{"t":-7.05,"v":1290},{"t":-6.5,"v":1030},{"t":-6,"v":760},{"t":-5.5,"v":580},{"t":-5,"v":490},{"t":-4,"v":480},{"t":-3,"v":490},{"t":-2,"v":450},{"t":-1,"v":390},{"t":0,"v":330}]},"mark":{"type":"line","color":"black","strokeWidth":2.5}},
{"data":{"values":[{"t":-15,"v":2540},{"t":-12,"v":2530},{"t":-10,"v":2510},{"t":-9.5,"v":2470},{"t":-9,"v":2380},{"t":-8.5,"v":2200},{"t":-8,"v":1960},{"t":-7.5,"v":1650},{"t":-7,"v":1270},{"t":-6.5,"v":900},{"t":-6,"v":540},{"t":-5.5,"v":300},{"t":-5,"v":150},{"t":-4.5,"v":60},{"t":-4,"v":20},{"t":-3,"v":5},{"t":-2,"v":0}]},"mark":{"type":"line","color":"black","strokeWidth":2.5,"strokeDash":[6,3],"interpolate":"monotone"}},
{"data":{"values":[{"t":-5.27,"t2":-1.31,"v":2314}]},"mark":{"type":"rule","color":"black","strokeWidth":2.5},"encoding":{"x2":{"field":"t2"}}},
{"data":{"values":[{"t":-5.27,"t2":-1.31,"v":1902}]},"mark":{"type":"rule","color":"black","strokeWidth":2.5,"strokeDash":[6,3]},"encoding":{"x2":{"field":"t2"}}},
{"data":{"values":[{"t":-0.5,"v":2314,"s":"f"},{"t":-0.5,"v":1902,"s":"f"},{"t":-7.1,"v":-230,"s":"t"}]},"mark":{"type":"text","font":"Liberation Serif","fontStyle":"italic","fontSize":16,"color":"#111"},"encoding":{"text":{"field":"s"}}},
{"data":{"values":[{"t":0,"v":2260,"s":"drive"},{"t":0,"v":1850,"s":"resist"}]},"mark":{"type":"text","font":"Liberation Serif","align":"left","fontSize":11.5,"color":"#111"},"encoding":{"text":{"field":"s"}}},
{"data":{"values":[{"t":-6.5,"v":-290,"s":"0"}]},"mark":{"type":"text","fontSize":11},"encoding":{"text":{"field":"s"}}},
{"data":{"values":[{"t":-18.3,"v":3697,"s":"C"}]},"mark":{"type":"text","fontWeight":"bold","fontSize":21,"color":"#111"},"encoding":{"text":{"field":"s"}}}
]},
{"width":105,"height":10,"data":{"values":[{"n":1}]},"mark":{"type":"point","opacity":0},"encoding":{}},
{"width":157.7,"height":149,
"encoding":{"x":{"field":"t","type":"quantitative","scale":{"domain":[-10,0],"nice":false},"axis":{"values":[-10,-5,0],"labelExpr":"''+datum.value","title":"time, s","domainColor":"black","domainWidth":2,"tickColor":"black","tickWidth":1.5,"tickSize":4,"labelPadding":7,"titlePadding":5}},
"y":{"field":"v","type":"quantitative","scale":{"domain":[0,200],"nice":false},"axis":{"values":[0,50,100,150,200],"title":"displacement, nm","domainColor":"black","domainWidth":2,"tickColor":"black","tickWidth":1.5,"tickSize":4,"labelPadding":4,"titlePadding":13}}},
"layer":[
{"data":{"values":[{"t":-10,"v":0},{"t":-7,"v":0},{"t":-6.5,"v":1.5},{"t":-6,"v":8},{"t":-5.5,"v":20},{"t":-5,"v":35},{"t":-4.5,"v":52},{"t":-4,"v":70},{"t":-3.5,"v":88},{"t":-3,"v":106},{"t":-2.5,"v":124},{"t":-2,"v":141},{"t":-1.5,"v":156},{"t":-1,"v":171},{"t":-0.75,"v":179}]},"mark":{"type":"line","color":"black","strokeWidth":2.5,"interpolate":"monotone"}},
{"data":{"values":[{"t":-11.65,"v":240.7,"s":"D"}]},"mark":{"type":"text","fontWeight":"bold","fontSize":21,"color":"#111"},"encoding":{"text":{"field":"s"}}}
]}
],"bounds":"flush","spacing":0}
]}
